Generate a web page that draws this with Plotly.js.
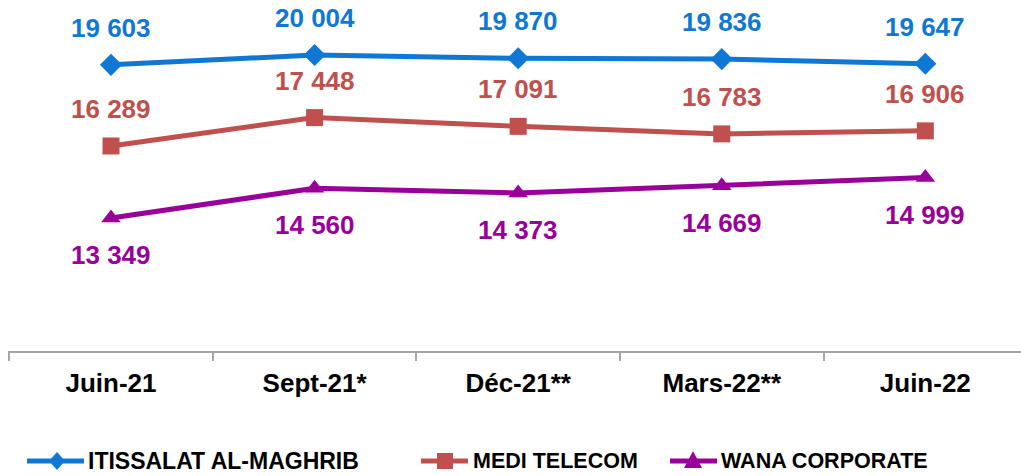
<!DOCTYPE html>
<html><head><meta charset="utf-8">
<script src="https://cdn.plot.ly/plotly-3.0.1.min.js"></script>
<style>html,body{margin:0;padding:0;background:#fff;overflow:hidden}#chart{width:1021px;height:476px}</style>
</head><body><div id="chart"></div>
<script>
const categories = ["Juin-21", "Sept-21*", "Déc-21**", "Mars-22**", "Juin-22"];
const iam = [19603, 20004, 19870, 19836, 19647];
const medi = [16289, 17448, 17091, 16783, 16906];
const wana = [13349, 14560, 14373, 14669, 14999];
const seriesNames = ["ITISSALAT AL-MAGHRIB", "MEDI TELECOM", "WANA CORPORATE"];
const colors = ["#0F78D4", "#C0504D", "#990099"];

const fmt = v => String(v).replace(/\B(?=(\d{3})+(?!\d))/g, " ");
const FONT = "Liberation Sans, Arial, sans-serif";

const ML = 8, MT = 5, PW = 1013, PH = 346;
const px2x = p => (p - ML) / PW;
const px2y = p => (MT + PH - p) / PH;

function tr(name, y, color, symbol, msize) {
  return {
    type: "scatter", mode: "lines+markers", name: name,
    x: categories, y: y,
    line: {color: color, width: 5},
    marker: {color: color, symbol: symbol, size: msize},
    cliponaxis: false, showlegend: false
  };
}

const data = [
  tr(seriesNames[0], iam, colors[0], "diamond", 17),
  tr(seriesNames[1], medi, colors[1], "square", 17),
  tr(seriesNames[2], wana, colors[2], "triangle-up", 17)
];

const annotations = [];
const addLabels = (vals, color, shift) => vals.forEach((v, i) => annotations.push({
  x: categories[i], y: v, xref: "x", yref: "y", text: fmt(v), showarrow: false,
  yshift: shift, xanchor: "center", yanchor: "middle",
  font: {family: FONT, size: 26, color: color, weight: "bold"}
}));
addLabels(iam, colors[0], 37);
addLabels(medi, colors[1], 37);
addLabels(wana, colors[2], -37);

// manual legend
const legY = px2y(461);
const legItems = [
  {x0: 27, x1: 84, mx: 57, tx: 86, size: 23},
  {x0: 421, x1: 468, mx: 445, tx: 471, size: 21.5},
  {x0: 670, x1: 717, mx: 693, tx: 719, size: 21.5}
];
const markerPaths = [
  "M0,-9 L8,0 L0,9 L-8,0 Z",
  "M-8,-8 L8,-8 L8,8 L-8,8 Z",
  "M0,10 L9,-7 L-9,-7 Z"
];
const shapes = [];
legItems.forEach((it, k) => {
  shapes.push({type: "line", xref: "paper", yref: "paper", x0: px2x(it.x0), x1: px2x(it.x1),
    y0: legY, y1: legY, line: {color: colors[k], width: 5}});
  shapes.push({type: "path", xref: "paper", yref: "paper", xsizemode: "pixel", ysizemode: "pixel",
    xanchor: px2x(it.mx), yanchor: legY, path: markerPaths[k],
    fillcolor: colors[k], line: {color: colors[k], width: 0}});
  annotations.push({xref: "paper", yref: "paper", x: px2x(it.tx), y: legY, xanchor: "left", yanchor: "middle",
    text: seriesNames[k], showarrow: false,
    font: {family: FONT, size: it.size, color: "#000", weight: "bold"}});
});

const layout = {
  width: 1021, height: 476,
  margin: {l: ML, r: 0, t: MT, b: 125},
  paper_bgcolor: "#fff", plot_bgcolor: "#fff",
  showlegend: false,
  annotations: annotations, shapes: shapes,
  xaxis: {type: "category", range: [-0.506, 4.47], tickson: "boundaries",
          ticks: "outside", ticklen: 8, tickcolor: "#A6A6A6", tickwidth: 2,
          showline: true, linecolor: "#A6A6A6", linewidth: 2, showgrid: false,
          ticklabelstandoff: 8,
          tickfont: {family: FONT, size: 26, color: "#000", weight: "bold"}},
  yaxis: {range: [7917, 22046], visible: false, showgrid: false, zeroline: false},
  font: {family: FONT}
};
Plotly.newPlot("chart", data, layout, {displayModeBar: false, staticPlot: true});
</script></body></html>
